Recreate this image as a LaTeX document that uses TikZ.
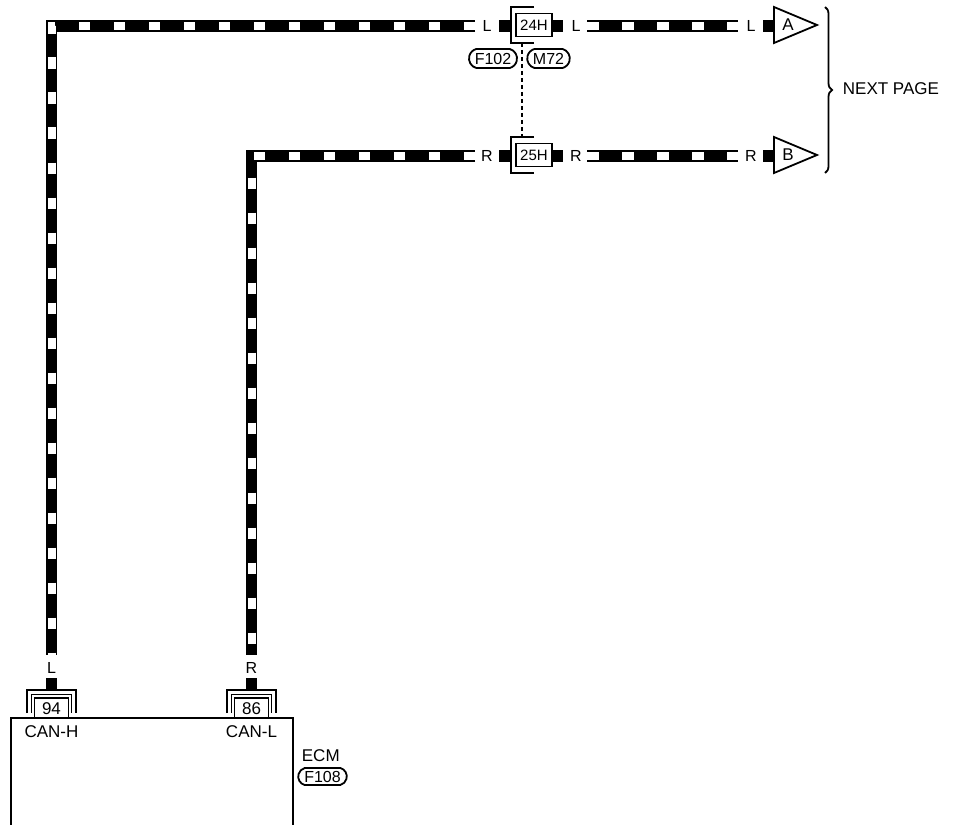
\documentclass[tikz,border=0pt]{standalone}
\usepackage{fontspec}
\setmainfont{Liberation Sans}
\usetikzlibrary{positioning,calc,shapes.misc,decorations.pathreplacing}

% harness wire: black band with white dashes
\newcommand{\harness}[1]{\draw[wire] #1; \draw[wirew] #1;}

\begin{document}
\begin{tikzpicture}[x=1pt,y=-1pt,font=\fontsize{17}{19}\selectfont,line width=1.8pt,
    wire/.style={line width=11.5pt,line join=miter},
    wirew/.style={line width=8pt,white,dash pattern=on 11.5pt off 23.5pt},
    blk/.style={fill=black,inner sep=0pt,minimum width=11pt,minimum height=11.5pt},
    pinbox/.style={draw,inner sep=0pt,minimum width=36pt,minimum height=23pt,font=\fontsize{15}{17}\selectfont},
    pill/.style={draw,rounded rectangle,rounded rectangle arc length=150,inner xsep=4pt,inner ysep=1pt,minimum height=19pt,font=\fontsize{16}{18}\selectfont},
    txt/.style={inner sep=0pt,font=\fontsize{16}{18}\selectfont}]
    \useasboundingbox (0,0) rectangle (955,824);
    \clip (0,0) rectangle (955,824);

    % joint connectors 24H / 25H
    \foreach \y/\n/\w/\lt in {26/24H/L/A, 156/25H/R/B}{
        \coordinate (e\w) at (475,\y);
        \coordinate (s\w) at (587,\y);
        \coordinate (f\w) at (738,\y);
        \node[txt] (tl\w) at (487,\y) {\w};
        \node[blk] (bl\w) at (504,\y) {};
        \draw (534,\y-19) -| (511,\y+17) -- (534,\y+17);
        \node[pinbox,fill=white] (c\w) at (534,\y-1) {\n};
        \node[blk] (br\w) at (557.5,\y) {};
        \node[txt] (tr\w) at (576,\y) {\w};
        \node[txt] (tf\w) at (751,\y) {\w};
        \node[blk] (bf\w) at (768,\y) {};
        \draw (774,\y-19) -- (817,\y-1) -- (774,\y+17) -- cycle;
        \node[txt,font=\fontsize{17}{19}\selectfont] (a\w) at (788,\y-1) {\lt};
        \harness{(s\w) -- (f\w)}
    }

    \node[pill] (f102) at (493,58.5) {F102};
    \node[pill] (m72) at (548.5,58.5) {M72};
    \draw[line width=1.4pt,dash pattern=on 4pt off 3pt] (522,43) -- (522,137);

    % next page brace
    \coordinate (ba) at (825,7);
    \coordinate (bb) at (825,173);
    \draw[decorate,decoration={brace,amplitude=7pt}] (ba) -- (bb);
    \node[anchor=west,inner sep=0pt] (np) at (842,89) {NEXT PAGE};

    % ECM
    \draw[line width=2pt] (11,718) rectangle (293,900);
    \foreach \x/\n/\w/\s in {51.5/94/L/H, 251.5/86/R/L}{
        \coordinate (k\n) at (\x,655);
        \node[txt] (t\n) at (\x,668) {\w};
        \node[blk] (b\n) at (\x,683.5) {};
        \draw (\x-24.5,713) |- (\x+24.5,690) -- (\x+24.5,713);
        \draw (\x-20,713) |- (\x+20,694.5) -- (\x+20,713);
        \draw[fill=white] (\x-17,718) rectangle (\x+17,698);
        \node[inner sep=0pt] (n\n) at (\x,708.5) {\n};
        \node (can\n) at (\x,732) {CAN-\s};
    }
    \node[anchor=west,inner sep=0pt] (ecm) at (301,756) {ECM};
    \node[pill,minimum height=17pt] (f108) at (322.5,776.5) {F108};

    % wires to ECM
    \harness{(eL) -- (51.5,26) -- (k94)}
    \harness{(eR) -- (251.5,156) -- (k86)}
\end{tikzpicture}
\end{document}
